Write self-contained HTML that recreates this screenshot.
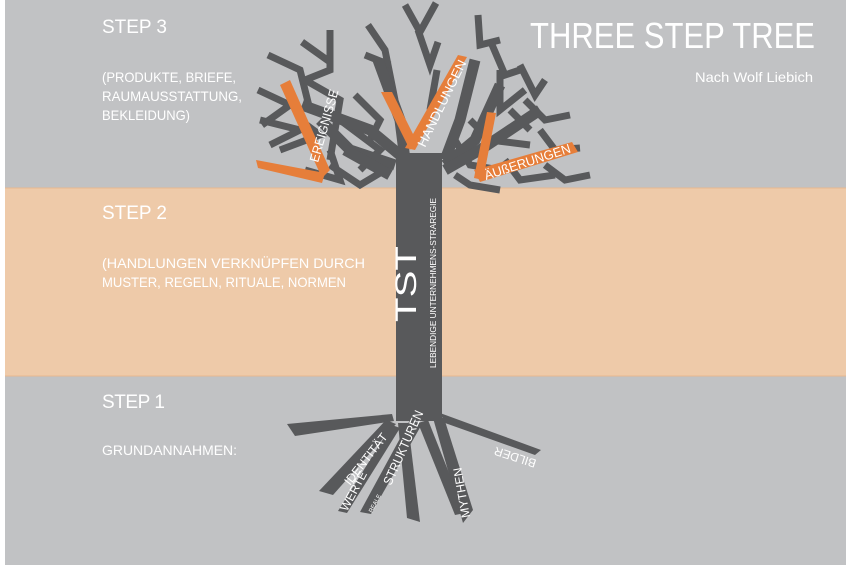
<!DOCTYPE html>
<html><head><meta charset="utf-8"><style>
html,body{margin:0;padding:0;background:#fff;}
svg{display:block;font-family:"Liberation Sans",sans-serif;}
</style></head><body>
<svg width="847" height="569" viewBox="0 0 847 569" xmlns="http://www.w3.org/2000/svg">
<rect x="5" y="0" width="841" height="188" fill="#c1c2c4"/>
<rect x="5" y="188" width="841" height="188" fill="#eecaa9"/>
<rect x="5" y="376" width="841" height="189" fill="#c1c2c4"/>
<line x1="5" y1="188" x2="846" y2="188" stroke="#e8b890" stroke-width="1"/>
<line x1="5" y1="376" x2="846" y2="376" stroke="#e8b890" stroke-width="1"/>

<g fill="#fff" font-size="19">
<text x="102" y="33" textLength="65">STEP 3</text>
<text x="102" y="219" textLength="65">STEP 2</text>
<text x="102" y="408" textLength="63">STEP 1</text>
</g>
<g fill="#fff" font-size="14" lengthAdjust="spacingAndGlyphs">
<text x="102" y="82" textLength="134" lengthAdjust="spacingAndGlyphs">(PRODUKTE, BRIEFE,</text>
<text x="102" y="101" textLength="140" lengthAdjust="spacingAndGlyphs">RAUMAUSSTATTUNG,</text>
<text x="102" y="120" textLength="88" lengthAdjust="spacingAndGlyphs">BEKLEIDUNG)</text>
<text x="102" y="268" textLength="263" lengthAdjust="spacingAndGlyphs">(HANDLUNGEN VERKNÜPFEN DURCH</text>
<text x="102" y="287" textLength="244" lengthAdjust="spacingAndGlyphs">MUSTER, REGELN, RITUALE, NORMEN</text>
<text x="102" y="455" textLength="135" lengthAdjust="spacingAndGlyphs">GRUNDANNAHMEN:</text>
<text x="695" y="82" textLength="118" lengthAdjust="spacingAndGlyphs">Nach Wolf Liebich</text>
</g>
<text x="530" y="48" fill="#fff" font-size="36" textLength="285" lengthAdjust="spacingAndGlyphs">THREE STEP TREE</text>

<!-- crown branches -->
<g stroke="#58595b" stroke-width="7" fill="none" stroke-linecap="butt">
<polyline points="330,30 330,70 305,80"/>
<polyline points="302,42 330,62"/>
<polyline points="268,55 300,70 310,110"/>
<polyline points="258,90 290,105 262,125"/>
<polyline points="260,120 300,130 270,145"/>
<polyline points="280,150 320,135 300,120"/>
<polyline points="305,80 340,100 330,160"/>
<polyline points="368,25 385,50 395,100"/>
<polyline points="365,55 390,65"/>
<polyline points="405,5 420,32 436,3"/>
<polyline points="418,30 430,65 438,42"/>
<polyline points="437,70 430,110"/>
<polyline points="355,95 380,120 370,140"/>
<polyline points="340,120 380,150 360,170"/>
<polyline points="330,165 360,185 385,170"/>
<polyline points="305,170 340,180 330,150"/>
<polyline points="478,15 480,45 500,40"/>
<polyline points="490,40 505,75 520,70"/>
<polyline points="500,70 500,110 525,90"/>
<polyline points="520,65 535,95 545,80"/>
<polyline points="525,100 545,120 570,115"/>
<polyline points="540,130 555,150 580,148"/>
<polyline points="545,165 565,180 590,175"/>
<polyline points="470,120 490,140 530,145"/>
<polyline points="455,140 470,165 500,170"/>
<polyline points="505,160 520,180 555,175"/>
<polyline points="455,175 470,185 500,190"/>
<polyline points="510,110 530,130"/>
</g>
<g stroke="#58595b" stroke-width="11" fill="none">
<polyline points="378,60 400,120 405,160"/>
<polyline points="302,105 370,130 400,155"/>
<polyline points="320,120 350,150 395,165"/>
<polyline points="475,60 460,120 445,160"/>
<polyline points="500,85 475,140 445,165"/>
<polyline points="540,110 480,150 445,170"/>
<polyline points="345,150 390,175"/>
</g>
<!-- orange -->
<g fill="#e67e3a">
<polygon points="280,85 290,80 330,170 322,178"/>
<polygon points="256,160 325,173 322,183 258,168"/>
<polygon points="381,92 392,92 415,138 410,150"/>
<polygon points="405,148 458,55 467,57 415,150"/>
<polygon points="487,112 496,113 483,180 474,178"/>
<polygon points="474,170 572,142 578,152 480,182"/>
</g>
<g fill="#fff" font-size="13">
<text transform="translate(318,163) rotate(-74)" textLength="75" lengthAdjust="spacingAndGlyphs">EREIGNISSE</text>
<text transform="translate(425,148) rotate(-64)" textLength="95" lengthAdjust="spacingAndGlyphs">HANDLUNGEN</text>
<text transform="translate(486,180) rotate(-18)" textLength="90" lengthAdjust="spacingAndGlyphs">ÄUßERUNGEN</text>
</g>

<!-- trunk -->
<rect x="396" y="153" width="46" height="268" fill="#58595b"/>
<text transform="translate(416,322) rotate(-90)" fill="#fff" font-size="30" textLength="76" lengthAdjust="spacingAndGlyphs">TST</text>
<text transform="translate(436,368) rotate(-90)" fill="#fff" font-size="8" textLength="170" lengthAdjust="spacingAndGlyphs">LEBENDIGE UNTERNEHMENS-STRAREGIE</text>

<!-- roots -->
<g fill="#58595b">
<polygon points="287,424 392,414 394,421 295,436"/>
<polygon points="386,420 396,424 333,495 319,491"/>
<polygon points="392,425 400,428 347,513 338,511"/>
<polygon points="410,420 422,424 371,514 360,512"/>
<polygon points="398,423 408,423 420,522 407,518"/>
<polygon points="418,423 428,420 465,513 455,515"/>
<polygon points="433,418 444,418 473,510 463,523"/>
<polygon points="440,413 445,423 535,455 541,450"/>
</g>
<g fill="#fff">
<text transform="translate(350,486) rotate(-52)" font-size="12">IDENTITÄT</text>
<text transform="translate(347,512) rotate(-62)" font-size="12">WERTE</text>
<text transform="translate(372,513) rotate(-62)" font-size="6">REALE</text>
<text transform="translate(391,486) rotate(-66)" font-size="13" textLength="80" lengthAdjust="spacingAndGlyphs">STRUKTUREN</text>
<text transform="translate(470,517) rotate(-100)" font-size="12">MYTHEN</text>
<text transform="translate(537,460) rotate(198)" font-size="12">BILDER</text>
</g>
</svg>
</body></html>
